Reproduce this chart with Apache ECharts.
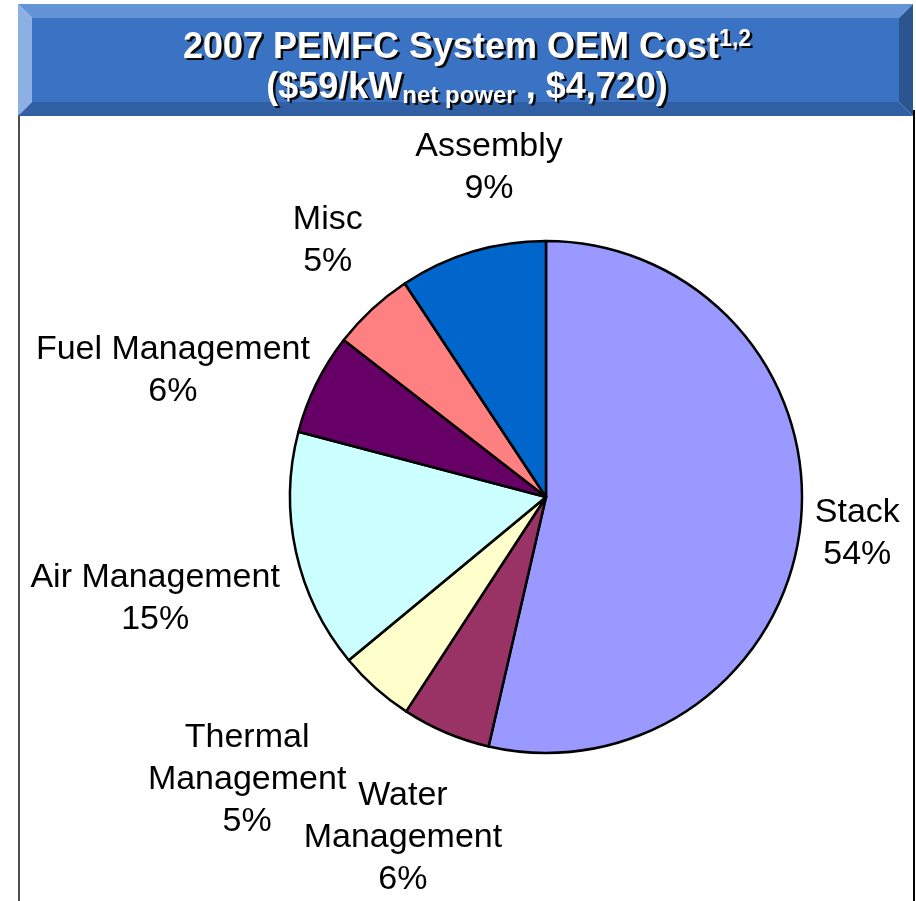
<!DOCTYPE html>
<html>
<head>
<meta charset="utf-8">
<script src="https://cdn.jsdelivr.net/npm/echarts@6/dist/echarts.min.js"></script>
<style>
html,body{margin:0;padding:0;background:#fff;}
#chart{width:916px;height:901px;}
</style>
</head>
<body>
<div id="chart"></div>
<script>
// ---- data ----
const categories = ['Stack', 'Water\nManagement', 'Thermal\nManagement', 'Air Management', 'Fuel Management', 'Misc', 'Assembly'];
const values = [53.6, 5.6, 4.8, 15.1, 6.4, 5.2, 9.3];
const colors = ['#9999FF', '#993366', '#FFFFCC', '#CCFFFF', '#660066', '#FF8080', '#0066CC'];

// ---- layout settings ----
const CX = 546, CY = 497, R = 256;
const labelDist = [1.223, 1.434, 1.600, 1.575, 1.542, 1.325, 1.316];   // label distance in radii
const labelShift = [-0.3, -0.1, 5.1, -1.8, -7.2, 2.8, 7.0];            // degrees off slice middle

const total = values.reduce((a, b) => a + b, 0);
const FONT = '"Liberation Sans", Arial, sans-serif';

const chart = echarts.init(document.getElementById('chart'), null, {renderer: 'canvas'});

const TITLE_TEXT = '{a|2007 PEMFC System OEM Cost}{sup|1,2}\n{a|($59/kW}{sub|net power}{a| , $4,720)}';
function titleRich(fill) {
  const base = {fill: fill, fontFamily: FONT, fontWeight: 'bold'};
  return {
    a: Object.assign({fontSize: 36, lineHeight: 40, verticalAlign: 'middle'}, base),
    sup: Object.assign({fontSize: 23, lineHeight: 22, verticalAlign: 'top'}, base),
    sub: Object.assign({fontSize: 24, lineHeight: 12, verticalAlign: 'bottom'}, base)
  };
}

const option = {
  backgroundColor: '#fff',
  animation: false,
  graphic: [
    // content frame
    {type: 'line', shape: {x1: 19, y1: 110, x2: 19, y2: 901}, style: {stroke: '#4d4d4d', lineWidth: 2}, z: 1},
    {type: 'line', shape: {x1: 914, y1: 110, x2: 914, y2: 901}, style: {stroke: '#000', lineWidth: 2}, z: 1},
    // banner bevels
    {type: 'polygon', shape: {points: [[18, 4], [913, 4], [899, 18], [32, 18]]}, style: {fill: '#6594D6'}, z: 2},
    {type: 'polygon', shape: {points: [[18, 4], [32, 18], [32, 102], [18, 116]]}, style: {fill: '#8CB0E3'}, z: 2},
    {type: 'polygon', shape: {points: [[18, 116], [32, 102], [899, 102], [913, 116]]}, style: {fill: '#3060A3'}, z: 2},
    {type: 'polygon', shape: {points: [[913, 4], [913, 116], [899, 102], [899, 18]]}, style: {fill: '#2A5590'}, z: 2},
    {type: 'rect', shape: {x: 32, y: 18, width: 867, height: 84}, style: {fill: '#3A72C4'}, z: 2},
    // title shadow
    {
      type: 'text', x: 469.5, y: 30.5, z: 3,
      style: {text: TITLE_TEXT, align: 'center', verticalAlign: 'top', fill: '#0a0a0a', rich: titleRich('#0a0a0a')}
    },
    // title
    {
      type: 'text', x: 467, y: 28, z: 4,
      style: {text: TITLE_TEXT, align: 'center', verticalAlign: 'top', fill: '#ffffff', rich: titleRich('#ffffff')}
    }
  ],
  series: [{
    type: 'pie',
    center: [CX, CY],
    radius: R,
    startAngle: 90,
    clockwise: true,
    avoidLabelOverlap: false,
    data: categories.map((c, i) => ({name: c, value: values[i], itemStyle: {color: colors[i]}})),
    itemStyle: {borderColor: '#000', borderWidth: 2.5},
    emphasis: {disabled: true},
    label: {
      show: true,
      position: 'outside',
      color: '#000',
      fontFamily: FONT,
      fontSize: 34,
      lineHeight: 42,
      formatter: p => p.name + '\n' + Math.round(p.percent) + '%'
    },
    labelLine: {show: false},
    labelLayout: function (p) {
      const i = p.dataIndex;
      let cum = 0;
      for (let j = 0; j < i; j++) cum += values[j];
      const mid = (cum + values[i] / 2) / total * 360 + labelShift[i];
      const rad = mid * Math.PI / 180;
      const d = labelDist[i] * R;
      return {x: CX + d * Math.sin(rad), y: CY - d * Math.cos(rad) + 3, align: 'center', verticalAlign: 'middle'};
    }
  }]
};
chart.setOption(option);
</script>
</body>
</html>
